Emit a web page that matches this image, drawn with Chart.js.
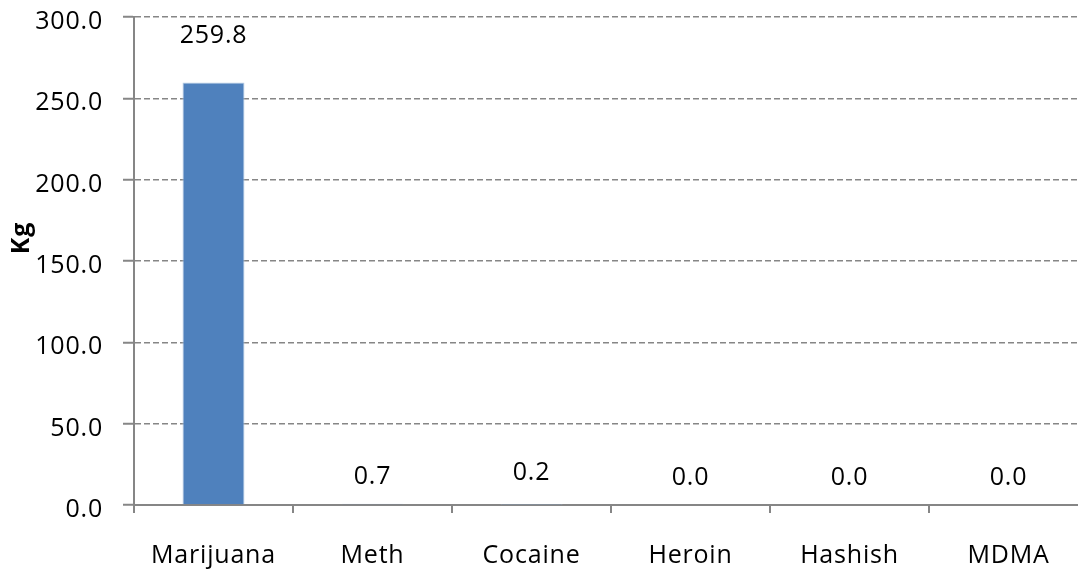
<!DOCTYPE html>
<html>
<head>
<meta charset="utf-8">
<script src="https://cdn.jsdelivr.net/npm/chart.js@4/dist/chart.umd.min.js"></script>
<style>
    html, body { margin: 0; padding: 0; background: #fff; overflow: hidden; }
    #wrap { position: relative; width: 1092px; height: 575px; }
</style>
</head>
<body>
<div id="wrap"><canvas id="seizure"></canvas></div>
<script>
// 押収量データ
var drugs = ["Marijuana", "Meth", "Cocaine", "Heroin", "Hashish", "MDMA"];
var kilos = [259.8, 0.7, 0.2, 0.0, 0.0, 0.0];
var yTicks = [0, 50, 100, 150, 200, 250, 300];

var FONT = "'Open Sans', sans-serif";
var GAP = "0.8px";

// 文字間隔（キャンバスがリセットされるたびに付け直す）
var spacing = {
    id: "spacing",
    beforeLayout: function (chart) { chart.ctx.letterSpacing = GAP; },
    beforeDraw: function (chart) { chart.ctx.letterSpacing = GAP; }
};

// 棒の上に数値、左に縦軸タイトル
var valueLabels = {
    id: "valueLabels",
    afterDatasetsDraw: function (chart, args, opts) {
        var ctx = chart.ctx;
        var bars = chart.getDatasetMeta(0).data;
        ctx.save();
        ctx.letterSpacing = GAP;
        ctx.font = "25px " + FONT;
        ctx.fillStyle = "#000";
        ctx.textAlign = "center";
        ctx.textBaseline = "middle";
        bars.forEach(function (bar, i) {
            var v = chart.data.datasets[0].data[i];
            ctx.fillText(v.toFixed(1), bar.x, bar.y - opts.lift[i]);
        });
        // Kg
        ctx.translate(22, 238);
        ctx.rotate(-Math.PI / 2);
        ctx.font = "bold 25px " + FONT;
        ctx.fillText("Kg", 0, 0);
        ctx.restore();
    }
};

new Chart(document.getElementById("seizure"), {
    type: "bar",
    data: {
        labels: drugs,
        datasets: [{
            data: kilos,
            backgroundColor: "#4F81BD",
            borderColor: "#B9CDE5",
            borderWidth: 1,
            barPercentage: 0.39,
            categoryPercentage: 1
        }]
    },
    options: {
        responsive: true,
        maintainAspectRatio: false,
        animation: false,
        layout: { padding: { top: 17, right: 4, left: 0, bottom: 0 } },
        plugins: {
            legend: { display: false },
            tooltip: { enabled: false },
            valueLabels: { lift: [47, 27, 32, 27, 27, 27] }
        },
        scales: {
            x: {
                offset: true,
                grid: {
                    offset: true,
                    drawOnChartArea: false,
                    color: "#868686",
                    lineWidth: 2,
                    tickLength: 8
                },
                border: { color: "#868686", width: 2 },
                ticks: {
                    color: "#000",
                    font: { family: FONT, size: 25 },
                    padding: 28,
                    maxRotation: 0
                },
                afterFit: function (s) {
                    s.height = 70;
                    s.paddingLeft = 0;
                    s.paddingRight = 0;
                }
            },
            y: {
                min: 0,
                max: 300,
                afterBuildTicks: function (s) {
                    s.ticks = yTicks.map(function (v) { return { value: v }; });
                },
                grid: {
                    color: "#868686",
                    lineWidth: 1.5,
                    tickLength: 11,
                    tickBorderDash: [],
                    tickColor: "#868686",
                    tickWidth: 2
                },
                border: { color: "#868686", width: 2, dash: [6, 3] },
                ticks: {
                    color: "#000",
                    font: { family: FONT, size: 25 },
                    padding: 20,
                    labelOffset: 5,
                    callback: function (v) { return Number(v).toFixed(1); }
                },
                afterFit: function (s) {
                    s.width = 134;
                    s.paddingTop = 0;
                    s.paddingBottom = 0;
                }
            }
        }
    },
    plugins: [spacing, valueLabels]
});
</script>
</body>
</html>
